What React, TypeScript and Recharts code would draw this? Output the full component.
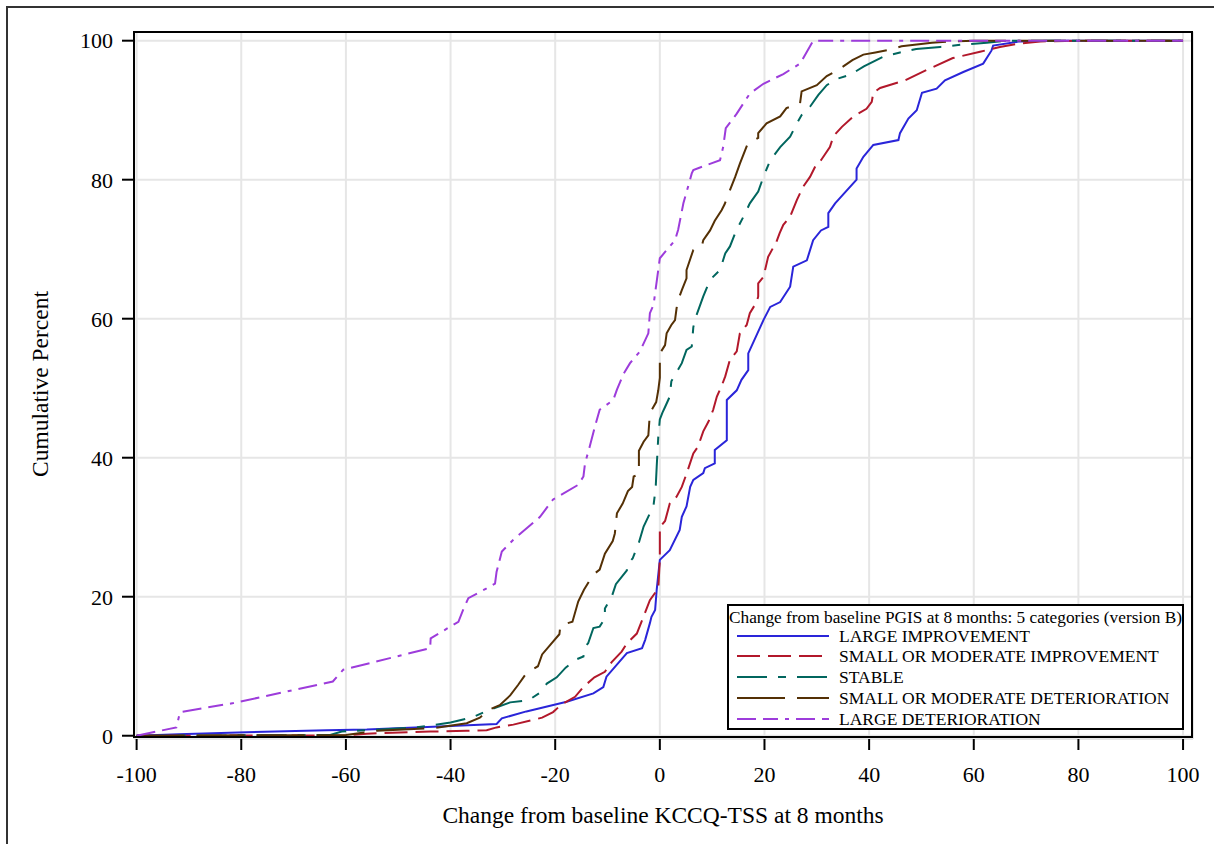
import { LineChart, Line, XAxis, YAxis, CartesianGrid } from 'recharts';

const xTicks = [-100, -80, -60, -40, -20, 0, 20, 40, 60, 80, 100];
const yTicks = [0, 20, 40, 60, 80, 100];

const seriesNames = [
  'LARGE IMPROVEMENT',
  'SMALL OR MODERATE IMPROVEMENT',
  'STABLE',
  'SMALL OR MODERATE DETERIORATION',
  'LARGE DETERIORATION',
];

// [change from baseline, cumulative percent]
const largeImprovement: [number, number][] = [
  [-100, 0], [-92, 0.2], [-79, 0.5], [-63.7, 0.8], [-56, 0.9], [-43.3, 1.3], [-31.2, 1.7], [-30.2, 2.5],
  [-25.5, 3.5], [-17.8, 4.9], [-12.7, 6.1], [-10.8, 7.0], [-10.2, 8.5], [-6.3, 11.9], [-3.4, 12.6],
  [-2.8, 13.8], [-1.9, 16.2], [-1.6, 17.1], [-0.9, 18.1], [-0.6, 21], [0, 25.3], [1.9, 26.7], [3.8, 29.6],
  [4.2, 31.5], [5.1, 33], [5.8, 35.8], [6.4, 36.8], [8.3, 37.8], [8.6, 38.5], [10.5, 39.2], [10.5, 41.1],
  [12.8, 42.5], [12.8, 48.3], [14.7, 49.7], [15.6, 51.2], [16.9, 52.6], [16.9, 55], [19.8, 59.8],
  [21.1, 61.7], [23, 62.4], [24.9, 64.6], [25.5, 67.5], [28.1, 68.4], [29.3, 71.3], [30.8, 72.7],
  [32.2, 73.2], [32.2, 75.2], [33.5, 76.6], [37.6, 80], [37.6, 81.6], [38.9, 83.3], [40.8, 85],
  [45.6, 85.7], [45.9, 86.7], [47.5, 88.8], [49.1, 90], [50.1, 92.5], [52.9, 93.1], [54.5, 94.3],
  [58, 95.5], [61.8, 96.7], [63.4, 98.6], [63.7, 99.3], [68.8, 99.9], [75, 100], [100, 100],
];

const smallModImprovement: [number, number][] = [
  [-100, 0], [-60, 0.05], [-56, 0.3], [-43.9, 0.6], [-37, 0.7], [-33.1, 0.8], [-31.2, 1.2], [-28, 1.6],
  [-22.5, 2.6], [-20.4, 3.4], [-18.8, 4.5], [-16.2, 5.6], [-14.5, 7.1], [-12.5, 8.4], [-10.5, 9.2],
  [-9.2, 10.6], [-7.3, 12.1], [-6.3, 13.3], [-4.4, 14.7], [-3.4, 16.6], [-1.9, 19.5], [-0.3, 21.2],
  [0, 25.3], [0, 30], [1, 30.9], [1.9, 33.4], [3.2, 34.4], [4.2, 35.8], [5.2, 37.9], [6.4, 40.6],
  [7.3, 41.6], [8.3, 43.8], [9.3, 45.2], [10.2, 46.9], [10.9, 48.8], [11.8, 50.3], [12.5, 51.7],
  [13.4, 54.1], [14.7, 55.3], [15.3, 57.9], [16.6, 59.1], [17.2, 60.8], [18.5, 62.4], [18.8, 63.2],
  [18.8, 65.1], [19.8, 66], [20.7, 68.9], [22.3, 71.1], [22.9, 72.3], [23.6, 73.5], [24.9, 74.7],
  [26.2, 77.1], [27.4, 79], [28.7, 80.4], [29.7, 81.9], [30.8, 82.8], [32.5, 84.7], [33.2, 86.3],
  [34.8, 87.6], [37, 89.1], [39.5, 90.2], [40.5, 91.2], [40.8, 92.5], [42.1, 93.2], [46.9, 94.3],
  [51, 95.8], [56, 97.5], [61.2, 98.4], [65, 99.1], [68.8, 99.6], [72.7, 99.9], [80, 100], [100, 100],
];

const stable: [number, number][] = [
  [-100, 0], [-63, 0.1], [-60.8, 0.6], [-46.5, 1.2], [-40, 1.9], [-35.7, 2.7], [-32.6, 3.7], [-28.6, 4.8],
  [-25.1, 5.1], [-22.9, 6.2], [-21.6, 7.5], [-19.7, 8.4], [-18, 9.8], [-15.9, 11], [-14.6, 11.4],
  [-14.3, 12.8], [-13.7, 13.3], [-12.7, 15.5], [-11.5, 15.7], [-10.5, 16.9], [-10.5, 18.3], [-9.2, 20],
  [-8.4, 21.8], [-6.3, 23.8], [-6.3, 24.6], [-5.2, 25.5], [-4, 27.8], [-3.1, 30.1], [-1.9, 32],
  [-1.2, 33.2], [-0.8, 35.6], [-0.6, 38.7], [-0.3, 43], [0, 45.5], [0.5, 46.5], [1, 47.3], [1.9, 48.8],
  [2.2, 51], [3.2, 52.3], [4.2, 53.6], [5.1, 55.5], [6.1, 56], [6.4, 58.8], [7, 60.5], [8.3, 63.2],
  [9.6, 65.6], [11.5, 67], [12.5, 69.4], [13.4, 70.4], [14.4, 72.3], [15.3, 73.7], [16, 74.7],
  [17.2, 76.6], [18.8, 78.3], [19.8, 80.4], [21.1, 82.8], [23, 84.7], [24.9, 86.2], [26.2, 88.1],
  [27.1, 89.3], [28.7, 90.5], [30.3, 92.2], [31.9, 93.6], [33.8, 94.5], [36.4, 95.1], [39, 96.3],
  [42.7, 97.7], [45.9, 98.3], [49, 98.8], [53.6, 99.1], [57.4, 99.4], [62.5, 99.7], [66, 100], [100, 100],
];

const smallModDeterioration: [number, number][] = [
  [-100, 0], [-60, 0.1], [-54, 0.7], [-43.3, 1.1], [-36.9, 1.8], [-34.4, 2.6], [-32.8, 3.7], [-30.6, 4.4],
  [-28.6, 5.8], [-27.1, 7.3], [-25.5, 9], [-23.3, 10], [-22.5, 11.7], [-20.9, 13.1], [-19.2, 14.6],
  [-19, 15.9], [-16.7, 16.4], [-15.6, 19.3], [-14.5, 21], [-12.7, 23.2], [-11.5, 23.9], [-10.5, 26.2],
  [-9, 28], [-8.6, 29.1], [-8.2, 32], [-7.1, 33.4], [-6.1, 35.2], [-5.3, 35.8], [-5, 37.3], [-4, 37.6],
  [-4, 41], [-3.1, 42.3], [-2.2, 43.2], [-1.9, 46.4], [-0.7, 48], [-0.3, 49.7], [0, 51.5], [0, 55],
  [1, 56.2], [1.3, 57.9], [2.2, 59.1], [2.9, 59.8], [3.2, 61.5], [3.5, 62.7], [4.2, 64.1], [5.1, 65.8],
  [5.1, 67], [6.4, 69.9], [8, 70.4], [8.3, 71.3], [9.6, 72.7], [10.5, 74.1], [11.8, 75.6], [12.4, 76.5],
  [13.4, 78.5], [14.4, 80.4], [15.3, 82.3], [16.8, 85.2], [18.8, 86], [18.8, 86.7], [20.4, 88.1],
  [23, 89.1], [24.2, 90.3], [26.8, 91], [27.1, 92.7], [30, 93.6], [31.9, 94.9], [34.3, 95.9],
  [36.8, 97.2], [38.9, 98], [41.2, 98.3], [44, 98.7], [46.2, 99.2], [52, 99.7], [56.1, 99.9], [60, 100],
  [100, 100],
];

const largeDeterioration: [number, number][] = [
  [-100, 0], [-92.4, 1.2], [-91.7, 3.4], [-81.5, 4.7], [-62.5, 7.8], [-60.5, 9.5], [-43.9, 12.6],
  [-43.8, 14.0], [-38.5, 16.4], [-37.6, 18.1], [-36.6, 19.8], [-33.1, 21.2], [-31.5, 21.9], [-31.2, 23.6],
  [-30.2, 26.5], [-28, 28.2], [-22.9, 31.5], [-20.4, 34.0], [-15.6, 36.1], [-14.6, 37.3], [-14.3, 39.2],
  [-13.4, 41.6], [-12.4, 44.5], [-11.5, 46.9], [-8.9, 48.3], [-8.2, 49.8], [-6.9, 52.1], [-5.7, 53.6],
  [-3.8, 55.3], [-2.2, 57.9], [-1.9, 60.8], [-1.2, 62], [0, 68.7], [2.9, 71.3], [3.5, 72.8], [4.5, 76.6],
  [6.1, 80.9], [6.4, 81.4], [11.5, 82.8], [12.1, 84.7], [12.6, 87.4], [14.7, 89.5], [17.2, 92.4],
  [19.8, 93.8], [23.6, 95.2], [26.8, 96.7], [29.3, 100], [100, 100],
];

const seriesValues = [largeImprovement, smallModImprovement, stable, smallModDeterioration, largeDeterioration];
const colors = ['#2A25D9', '#B2182B', '#01665E', '#543005', '#9D3CDB'];
const dashes = ['', '23 8', '30 11 8 11', '48 12', '19 7 15 7 4 7'];

const FONT = '"Liberation Serif", "Times New Roman", serif';

export default function App() {
  const lines = seriesValues.map(s => s.map(([x, y]) => ({ x, y })));

  return (
    <div style={{ position: 'absolute', left: 0, top: 0, width: 1214, height: 844, background: '#fff', overflow: 'hidden', fontFamily: FONT }}>
      <div style={{ position: 'absolute', left: 6, top: 6, width: 1230, height: 860, borderTop: '2px solid #333', borderLeft: '2px solid #333' }} />
      <div style={{ position: 'absolute', left: 0, top: 0 }}>
        <LineChart width={1214} height={844} margin={{ top: 32, right: 21, bottom: 45, left: 74 }}>
          <CartesianGrid stroke="#e6e6e6" strokeWidth={2} />
          <XAxis
            type="number"
            dataKey="x"
            domain={[-100.5, 101.9]}
            allowDataOverflow
            ticks={xTicks}
            height={60}
            tickSize={11}
            tickMargin={16}
            axisLine={false}
            tickLine={{ stroke: '#000', strokeWidth: 2 }}
            tick={{ fill: '#000', fontSize: 22, fontFamily: FONT }}
          />
          <YAxis
            type="number"
            dataKey="y"
            domain={[-0.47, 101.25]}
            allowDataOverflow
            ticks={yTicks}
            width={60}
            tickSize={12}
            tickMargin={9}
            axisLine={false}
            tickLine={{ stroke: '#000', strokeWidth: 2 }}
            tick={{ fill: '#000', fontSize: 22, fontFamily: FONT }}
          />
          {lines.map((d, i) => (
            <Line
              key={seriesNames[i]}
              data={d}
              dataKey="y"
              name={seriesNames[i]}
              type="linear"
              stroke={colors[i]}
              strokeWidth={2}
              strokeDasharray={dashes[i] || undefined}
              dot={false}
              activeDot={false}
              isAnimationActive={false}
            />
          ))}
        </LineChart>
      </div>
      {/* plot frame */}
      <div style={{ position: 'absolute', left: 133, top: 31, width: 1060, height: 707, border: '2px solid #000', boxSizing: 'border-box', pointerEvents: 'none' }} />
      {/* axis titles */}
      <div style={{ position: 'absolute', left: 663, top: 815, transform: 'translate(-50%, -50%)', fontSize: 23.5, whiteSpace: 'nowrap', color: '#000' }}>
        Change from baseline KCCQ-TSS at 8 months
      </div>
      <div style={{ position: 'absolute', left: 40, top: 384, transform: 'translate(-50%, -50%) rotate(-90deg)', fontSize: 23.5, whiteSpace: 'nowrap', color: '#000' }}>
        Cumulative Percent
      </div>
      {/* legend */}
      <div style={{ position: 'absolute', left: 727, top: 604, width: 457, height: 126, border: '2px solid #000', boxSizing: 'border-box', background: '#fff', color: '#000' }}>
        <div style={{ position: 'absolute', left: 0, top: 2, fontSize: 17.3, whiteSpace: 'nowrap', lineHeight: '20px' }}>
          Change from baseline PGIS at 8 months: 5 categories (version B)
        </div>
        {seriesNames.map((name, i) => (
          <div key={name} style={{ position: 'absolute', left: 8, top: 19.5 + i * 20.8, height: 20, display: 'flex', alignItems: 'center' }}>
            <svg width={92} height={6} style={{ display: 'block' }}>
              <line x1={0} y1={3} x2={92} y2={3} stroke={colors[i]} strokeWidth={2} strokeDasharray={dashes[i] || undefined} />
            </svg>
            <span style={{ marginLeft: 10, fontSize: 17.5, whiteSpace: 'nowrap', lineHeight: '20px' }}>{name}</span>
          </div>
        ))}
      </div>
    </div>
  );
}
